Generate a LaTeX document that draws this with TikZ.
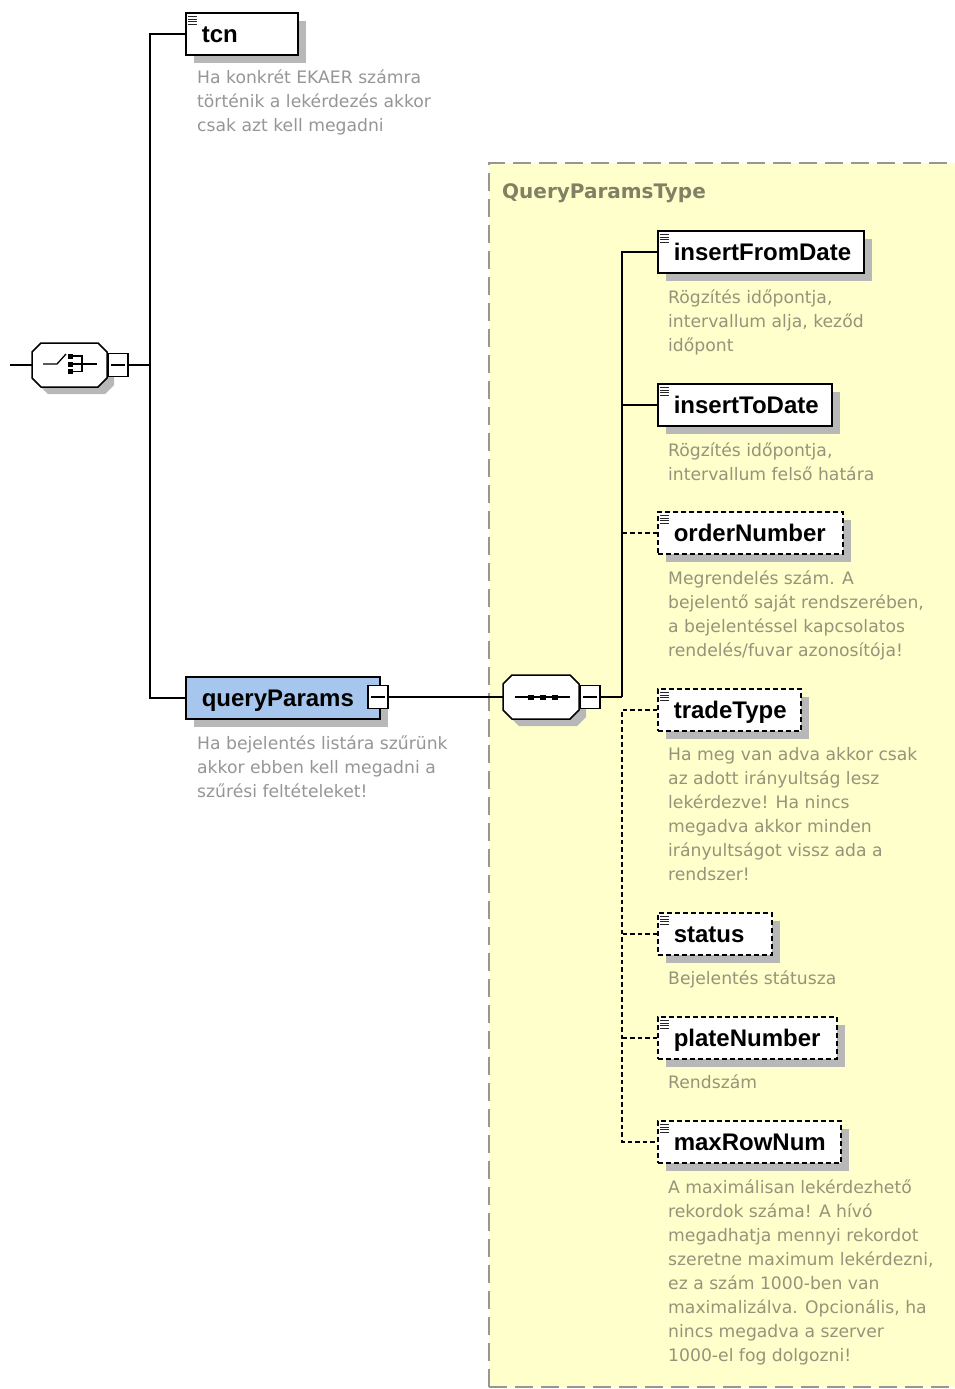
\documentclass[tikz,border=0pt]{standalone}
\usepackage{fontspec}
\setmainfont{DejaVu Sans}
\newfontfamily\lblfont{Liberation Sans}
\usetikzlibrary{shadows}
\definecolor{yfill}{RGB}{255,255,204}
\definecolor{qpblue}{RGB}{166,198,238}
\definecolor{shadowc}{RGB}{184,184,184}
\definecolor{descw}{RGB}{150,150,150}
\definecolor{descy}{RGB}{148,148,122}
\definecolor{qtc}{RGB}{128,128,100}
\definecolor{tbord}{RGB}{150,150,150}
\newcommand\octa[5]{(#1+#5,#2) -- (#3-#5,#2) -- (#3,#2+#5) -- (#3,#4-#5) -- (#3-#5,#4) -- (#1+#5,#4) -- (#1,#4-#5) -- (#1,#2+#5) -- cycle}
\begin{document}
\begin{tikzpicture}[x=1pt,y=-1pt,
  conn/.style={draw=black, line width=1.5pt},
  dconn/.style={conn, dash pattern=on 4.5pt off 3pt},
  sym/.style={draw=black, line width=1.5pt, fill=white},
  tborder/.style={draw=tbord, line width=1.5pt, dash pattern=on 18pt off 8pt},
  shad/.style={drop shadow={shadow xshift=8pt, shadow yshift=-8pt, fill=shadowc, opacity=1}},
  boxbase/.style={draw=black, line width=1.6pt, fill=white, anchor=north west,
    minimum height=42pt, inner xsep=0pt, inner ysep=0pt, text width=#1, align=left,
    text height=17pt, text depth=0pt, font=\lblfont\bfseries\fontsize{24}{26}\selectfont},
  elem/.style={boxbase=#1, path picture={
    \foreach \k in {4,6.5,9,11.5}{\draw[solid, draw=black!85, line width=1.3pt]
      ([shift={(2.5pt,-\k pt)}]path picture bounding box.north west) -- ++(9pt,0pt);}}},
  optelem/.style={elem=#1, dash pattern=on 5pt off 3pt},
  minus/.style={draw=black, line width=1.3pt, fill=white, minimum width=20pt,
    minimum height=23pt, inner sep=0pt, path picture={
    \draw[solid, line width=1.2pt] ([xshift=3pt]path picture bounding box.west)
      -- ([xshift=-3pt]path picture bounding box.east);}},
  desc/.style={anchor=north west, inner sep=0pt, align=left, text=descy,
    font=\fontsize{17.2}{24}\selectfont},
  descwhite/.style={desc, text=descw},
  qtitle/.style={anchor=base west, inner sep=0pt, text=qtc,
    font=\bfseries\fontsize{20}{22}\selectfont}
]
\useasboundingbox (0,0) rectangle (955,1389);
\fill[white] (0,0) rectangle (955,1389);

% complex type box
\fill[yfill] (489,163) rectangle (985,1387);
\draw[tborder] (489,1387) -- (489,163) -- (985,163);
\draw[tborder] (489,1387) -- (985,1387);
\node[qtitle] (qtitle) at (502,198) {QueryParamsType};

% choice compositor
\fill[shadowc] \octa{39}{350}{114}{394}{9};
\draw[sym] \octa{32}{343}{107}{387}{9};
\draw[line width=1.3pt] (43,364) -- (57,364) -- (66,354);
\fill (68,353.5) rectangle (73,358.5);
\fill (68,361.5) rectangle (73,366.5);
\fill (68,369) rectangle (73,374);
\draw[line width=1.3pt] (73,356) -- (82,356) -- (82,371.5) -- (73,371.5);
\draw[line width=1.3pt] (73,364) -- (97,364);
\node[minus] (cm) at (118,365) {};
\coordinate (in) at (10,365);
\coordinate (chW) at (32,365);
\coordinate (bus1) at (150,365);

% sequence compositor
\fill[shadowc] \octa{510}{682}{586}{726}{9};
\draw[sym] \octa{503}{675}{579}{719}{9};
\draw[line width=1.3pt] (515,697) -- (570,697);
\fill (527.5,694.5) rectangle (533.5,699.5);
\fill (539.5,694.5) rectangle (545.5,699.5);
\fill (551.5,694.5) rectangle (557.5,699.5);
\node[minus] (sm) at (590,697) {};
\coordinate (seqW) at (503,697);
\coordinate (bus2) at (622,697);

% elements
\node[elem=112pt, shad] (tcn) at (185,12) {\hspace*{16pt}tcn};
\node[descwhite] (tcnd) at (197,66) {\strut Ha konkrét EKAER számra\\ történik a lekérdezés akkor\\ csak azt kell megadni};

\node[boxbase=194pt, fill=qpblue, shad] (qp) at (185,676) {\hspace*{16pt}queryParams};
\node[minus] (qpm) at (378,697) {};
\node[descwhite] (qpd) at (197,732) {\strut Ha bejelentés listára szűrünk\\ akkor ebben kell megadni a\\ szűrési feltételeket!};

\node[elem=206pt, shad] (ifd) at (657,230) {\hspace*{16pt}insertFromDate};
\node[desc] (ifdd) at (668,286) {\strut Rögzítés időpontja,\\ intervallum alja, keződ\\ időpont};

\node[elem=174pt, shad] (itd) at (657,383) {\hspace*{16pt}insertToDate};
\node[desc] (itdd) at (668,439) {\strut Rögzítés időpontja,\\ intervallum felső határa};

\node[optelem=185pt, shad] (on) at (657,511) {\hspace*{16pt}orderNumber};
\node[desc] (ond) at (668,567) {\strut Megrendelés szám. A\\ bejelentő saját rendszerében,\\ a bejelentéssel kapcsolatos\\ rendelés/fuvar azonosítója!};

\node[optelem=143pt, shad] (tt) at (657,688) {\hspace*{16pt}tradeType};
\node[desc] (ttd) at (668,743) {\strut Ha meg van adva akkor csak\\ az adott irányultság lesz\\ lekérdezve! Ha nincs\\ megadva akkor minden\\ irányultságot vissz ada a\\ rendszer!};

\node[optelem=114pt, shad] (st) at (657,912) {\hspace*{16pt}status};
\node[desc] (std) at (668,967) {\strut Bejelentés státusza};

\node[optelem=179pt, shad] (pn) at (657,1016) {\hspace*{16pt}plateNumber};
\node[desc] (pnd) at (668,1071) {\strut Rendszám};

\node[optelem=183pt, shad] (mr) at (657,1120) {\hspace*{16pt}maxRowNum};
\node[desc] (mrd) at (668,1176) {\strut A maximálisan lekérdezhető\\ rekordok száma! A hívó\\ megadhatja mennyi rekordot\\ szeretne maximum lekérdezni,\\ ez a szám 1000-ben van\\ maximalizálva. Opcionális, ha\\ nincs megadva a szerver\\ 1000-el fog dolgozni!};

% connectors
\draw[conn] (in) -- (chW);
\draw[conn] (cm.east) -- (bus1);
\draw[conn] (tcn.west) -- ++(-35,0) |- (qp.west);
\draw[conn] (qpm.east) -- (seqW);
\draw[conn] (sm.east) -- (bus2);
\draw[conn] (ifd.west) -- ++(-35,0) |- (bus2);
\draw[conn] (itd.west) -- ++(-35,0);
\draw[dconn] (on.west) -- ++(-35,0);
\draw[dconn] (tt.west) -- ++(-35,0) |- (mr.west);
\draw[dconn] (st.west) -- ++(-35,0);
\draw[dconn] (pn.west) -- ++(-35,0);
\end{tikzpicture}
\end{document}
